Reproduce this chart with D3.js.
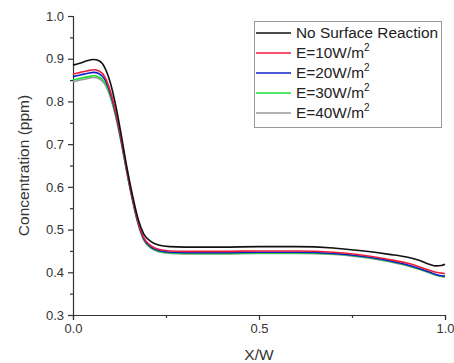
<!DOCTYPE html>
<html>
<head>
<meta charset="utf-8">
<script src="https://cdn.jsdelivr.net/npm/d3@7"></script>
<style>
  body { margin: 0; background: #fff; }
  svg { font-family: "Liberation Sans", Arial, sans-serif; }
</style>
</head>
<body>
<div id="chart"></div>
<script>
// data
const xs = [0, 0.02, 0.04, 0.055, 0.07, 0.085, 0.10, 0.115, 0.13, 0.145, 0.16, 0.175, 0.19, 0.21, 0.23, 0.26, 0.30, 0.40, 0.50, 0.60, 0.70, 0.77, 0.85, 0.90, 0.93, 0.96, 0.975, 0.99, 1.0];
const noReaction = [0.885, 0.890, 0.896, 0.898, 0.895, 0.880, 0.845, 0.790, 0.720, 0.645, 0.580, 0.525, 0.490, 0.472, 0.464, 0.460, 0.459, 0.459, 0.460, 0.460, 0.457, 0.451, 0.442, 0.435, 0.428, 0.418, 0.415, 0.416, 0.419];
const e10 = [0.864, 0.868, 0.872, 0.874, 0.871, 0.858, 0.825, 0.775, 0.710, 0.638, 0.573, 0.518, 0.481, 0.462, 0.454, 0.450, 0.449, 0.449, 0.450, 0.450, 0.447, 0.441, 0.430, 0.421, 0.413, 0.404, 0.400, 0.398, 0.397];
const e20 = [0.858, 0.862, 0.866, 0.868, 0.865, 0.852, 0.820, 0.771, 0.707, 0.636, 0.571, 0.516, 0.479, 0.459, 0.451, 0.447, 0.446, 0.446, 0.447, 0.447, 0.444, 0.438, 0.427, 0.417, 0.409, 0.400, 0.395, 0.392, 0.391];
const e30 = [0.850, 0.854, 0.858, 0.860, 0.857, 0.845, 0.814, 0.766, 0.703, 0.633, 0.569, 0.514, 0.477, 0.457, 0.449, 0.445, 0.444, 0.444, 0.445, 0.445, 0.443, 0.437, 0.426, 0.416, 0.408, 0.399, 0.394, 0.391, 0.390];
const e40 = [0.846, 0.850, 0.854, 0.856, 0.853, 0.841, 0.811, 0.764, 0.702, 0.632, 0.568, 0.513, 0.476, 0.456, 0.448, 0.444, 0.443, 0.443, 0.444, 0.444, 0.442, 0.436, 0.425, 0.415, 0.407, 0.398, 0.393, 0.390, 0.389];

const seriesNames = ["No Surface Reaction", "E=10W/m", "E=20W/m", "E=30W/m", "E=40W/m"];
const seriesSup = ["", "2", "2", "2", "2"];
const seriesColors = ["#111111", "#ee1c3a", "#1020c8", "#18e030", "#9a9a9a"];
const seriesValues = [noReaction, e10, e20, e30, e40];

const xTicks = [0, 0.5, 1.0];
const xMinor = [0.25, 0.75];
const yTicks = [0.3, 0.4, 0.5, 0.6, 0.7, 0.8, 0.9, 1.0];
const yMinor = [0.35, 0.45, 0.55, 0.65, 0.75, 0.85, 0.95];

const width = 454, height = 363;
const margin = {left: 73, right: 9, top: 16, bottom: 48};

const svg = d3.select("#chart").append("svg")
  .attr("width", width)
  .attr("height", height);

const x = d3.scaleLinear().domain([0, 1]).range([margin.left, width - margin.right]);
const y = d3.scaleLinear().domain([0.3, 1.0]).range([height - margin.bottom, margin.top]);

//axes
svg.append("g")
  .attr("transform", "translate(0," + y(0.3) + ")")
  .call(d3.axisBottom(x).tickValues(xTicks).tickFormat(d3.format(".1f")).tickSize(5).tickPadding(4));
svg.append("g")
  .attr("transform", "translate(0," + y(0.3) + ")")
  .call(d3.axisBottom(x).tickValues(xMinor).tickFormat("").tickSize(3))
  .select(".domain").remove();

svg.append("g")
  .attr("transform", "translate(" + x(0) + ",0)")
  .call(d3.axisLeft(y).tickValues(yTicks).tickFormat(d3.format(".1f")).tickSize(5).tickPadding(4));
svg.append("g")
  .attr("transform", "translate(" + x(0) + ",0)")
  .call(d3.axisLeft(y).tickValues(yMinor).tickFormat("").tickSize(3))
  .select(".domain").remove();

svg.selectAll(".domain, .tick line").attr("stroke", "#333").attr("stroke-width", 1.2);
svg.selectAll(".tick text").attr("fill", "#333").attr("font-size", "13px")
  .attr("font-family", "Liberation Sans, Arial, sans-serif");

//axis titles
svg.append("text")
  .attr("x", x(0.5)).attr("y", 360)
  .attr("text-anchor", "middle")
  .attr("font-size", "15.5px").attr("fill", "#333")
  .text("X/W");

svg.append("text")
  .attr("transform", "translate(29," + y(0.65) + ") rotate(-90)")
  .attr("text-anchor", "middle")
  .attr("font-size", "15.5px").attr("fill", "#333")
  .text("Concentration (ppm)");

//curves
const line = d3.line()
  .x(function(d, i) { return x(xs[i]); })
  .y(function(d) { return y(d); })
  .curve(d3.curveMonotoneX);

const drawOrder = [4, 3, 2, 1, 0];
svg.append("g").selectAll("path")
  .data(drawOrder)
  .enter().append("path")
    .attr("d", function(k) { return line(seriesValues[k]); })
    .attr("fill", "none")
    .attr("stroke", function(k) { return seriesColors[k]; })
    .attr("stroke-width", 1.6);

//legend
const legend = svg.append("g");
legend.append("rect")
  .attr("x", 254.5).attr("y", 21.5)
  .attr("width", 187).attr("height", 106)
  .attr("fill", "#fff").attr("stroke", "#999").attr("stroke-width", 1);

const items = legend.selectAll("g.item")
  .data(seriesNames)
  .enter().append("g")
    .attr("class", "item")
    .attr("transform", function(d, i) { return "translate(0," + (33 + i * 20) + ")"; });

items.append("line")
  .attr("x1", 256).attr("x2", 291)
  .attr("y1", 0).attr("y2", 0)
  .attr("stroke", function(d, i) { return seriesColors[i]; })
  .attr("stroke-width", 1.6);

const labels = items.append("text")
  .attr("x", 296).attr("y", 5)
  .attr("font-size", "15.4px").attr("fill", "#222");
labels.append("tspan").text(function(d) { return d; });
labels.append("tspan")
  .attr("dy", -7).attr("font-size", "10px")
  .text(function(d, i) { return seriesSup[i]; });
</script>
</body>
</html>
